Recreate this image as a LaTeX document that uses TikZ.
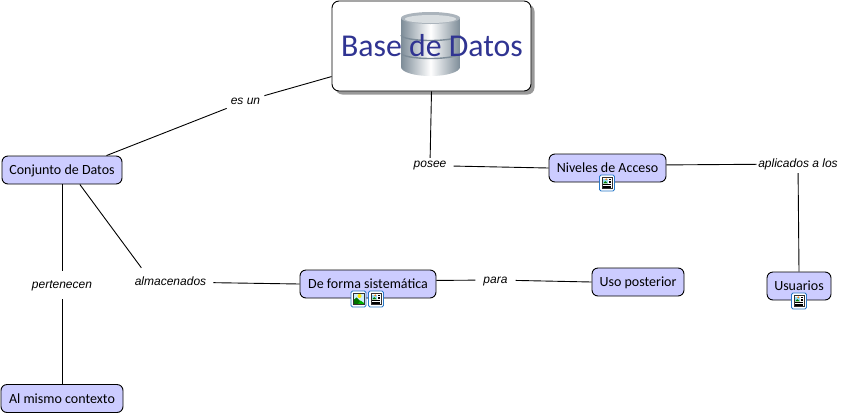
\documentclass[tikz,border=0pt]{standalone}
\usepackage{fontspec}
\setmainfont{Carlito}
\newfontfamily\labelfont{Liberation Sans}
\usetikzlibrary{shadows}

\definecolor{nodefill}{RGB}{204,204,255}
\definecolor{titleblue}{RGB}{48,52,146}
\definecolor{cyldark}{RGB}{125,140,152}
\definecolor{iconblue}{RGB}{40,120,200}

\tikzset{
    concept/.style={draw=black, fill=nodefill, rounded corners=6pt, line width=0.9pt,
        minimum height=28pt, inner sep=0pt, text height=10.5pt, text depth=1.5pt,
        font=\fontsize{14}{16}\selectfont},
    linkname/.style={inner ysep=8pt, inner xsep=7pt, text height=9pt, text depth=3pt,
        font=\labelfont\itshape\fontsize{12}{14}\selectfont},
    conn/.style={line width=0.9pt},
    docicon/.pic={
        \draw[iconblue, fill=white, rounded corners=1.5pt, line width=0.9pt] (-7.5,-8) rectangle (7.5,8);
        \draw[black!80, fill=white, line width=0.6pt] (-5,-5.5) rectangle (5,5.5);
        \fill[cyan!40!white] (-3.8,-4.4) rectangle (0.8,0.4);
        \fill[orange] (-0.8,-3.6) circle (1pt);
        \fill[green!50!black] (-3.8,0.4) -- (-1.8,-2) -- (0.8,0.4) -- cycle;
        \foreach \y in {-3.8,-2.2,-0.6} {
            \draw[black, line width=0.5pt] (1.8,\y) -- (3.8,\y);
        }
        \foreach \y in {1.4,2.8,4.2} {
            \draw[black, line width=0.5pt] (-3.8,\y) -- (3.8,\y);
        }
    },
    imgicon/.pic={
        \draw[iconblue, fill=white, rounded corners=1.5pt, line width=0.9pt] (-7.5,-8) rectangle (7.5,8);
        \fill[cyan!20!white] (-5.5,-5.5) rectangle (5.5,5.5);
        \fill[yellow!90!orange] (1,-3) circle (2pt);
        \fill[green!45!black] (-5.5,5.5) -- (-5.5,1.5) -- (-2,-1.5) -- (5.5,5.5) -- cycle;
        \fill[green!70!black] (-1,5.5) -- (2,1.5) -- (5.5,4) -- (5.5,5.5) -- cycle;
        \draw[black!80, line width=0.6pt] (-5.5,-5.5) rectangle (5.5,5.5);
    },
}

\begin{document}
\begin{tikzpicture}[x=1pt, y=-1pt]

    \useasboundingbox (0,0) rectangle (843,413);

    % nodo principal
    \node[draw=black, fill=white, rounded corners=7pt, line width=0.9pt,
        minimum width=199pt, minimum height=90pt,
        drop shadow={shadow xshift=3.5pt, shadow yshift=-3.5pt, opacity=0.8}] (base) at (431.5,46) {};

    % cilindro
    \pgfmathsetmacro{\cx}{430.5}
    \pgfmathsetmacro{\rx}{29.5}
    \shade[left color=cyldark, right color=cyldark, middle color=white]
        (\cx-\rx,18) -- (\cx-\rx,67) arc[start angle=180, end angle=360, x radius=\rx, y radius=-9]
        -- (\cx+\rx,18) -- cycle;
    \foreach \y in {35,53} {
        \draw[cyldark, line width=1.4pt] (\cx-\rx,\y) arc[start angle=180, end angle=360, x radius=\rx, y radius=-5.5];
    }
    \fill[cyldark!65!white] (\cx,18) ellipse[x radius=\rx, y radius=6];
    \fill[cyldark!30!white] (\cx,19) ellipse[x radius=\rx-4, y radius=4];
    \node[text=titleblue, font=\fontsize{31.8}{34}\selectfont, inner sep=0pt] (basetitle) at (432,46) {Base de Datos};

    % conceptos
    \node[concept, minimum width=120pt] (conjunto) at (62,170) {Conjunto de Datos};
    \node[concept, minimum width=117pt] (niveles) at (607.5,168) {Niveles de Acceso};
    \node[concept, minimum width=136pt] (forma) at (368,284) {De forma sistemática};
    \node[concept, minimum width=92pt] (uso) at (638,282) {Uso posterior};
    \node[concept, minimum width=64pt] (usuarios) at (799,286) {Usuarios};
    \node[concept, minimum width=122pt] (contexto) at (62,398.5) {Al mismo contexto};

    % frases de enlace
    \node[linkname, inner xsep=4pt, inner ysep=2pt] (esun) at (245.5,101) {es un};
    \node[linkname, inner ysep=0pt] (posee) at (430,164) {posee};
    \node[linkname, inner xsep=1.5pt, inner ysep=3pt] (aplicados) at (798,164) {aplicados a los};
    \node[linkname] (almacenados) at (170.5,282) {almacenados};
    \node[linkname, inner xsep=8pt] (para) at (495.5,280) {para};
    \node[linkname] (pertenecen) at (62,285) {pertenecen};

    % conexiones
    \draw[conn] (base.197) -- (esun);
    \draw[conn] (esun) -- (conjunto.18);
    \draw[conn] (base.south) -- (posee);
    \draw[conn] (posee.-5) -- (niveles.west);
    \draw[conn] (niveles.3) -- (aplicados);
    \draw[conn] (aplicados) -- (usuarios.north);
    \draw[conn] (conjunto.south) -- (pertenecen);
    \draw[conn] (pertenecen) -- (contexto.north);
    \draw[conn] (conjunto.-39) -- (almacenados.154);
    \draw[conn] (almacenados) -- (forma.west);
    \draw[conn] (forma.3) -- (para);
    \draw[conn] (para) -- (uso.west);

    % iconos
    \foreach \x/\y in {607/183,376/299,799/301} {
        \pic at (\x,\y) {docicon};
    }
    \pic at (358.5,299) {imgicon};

\end{tikzpicture}
\end{document}
